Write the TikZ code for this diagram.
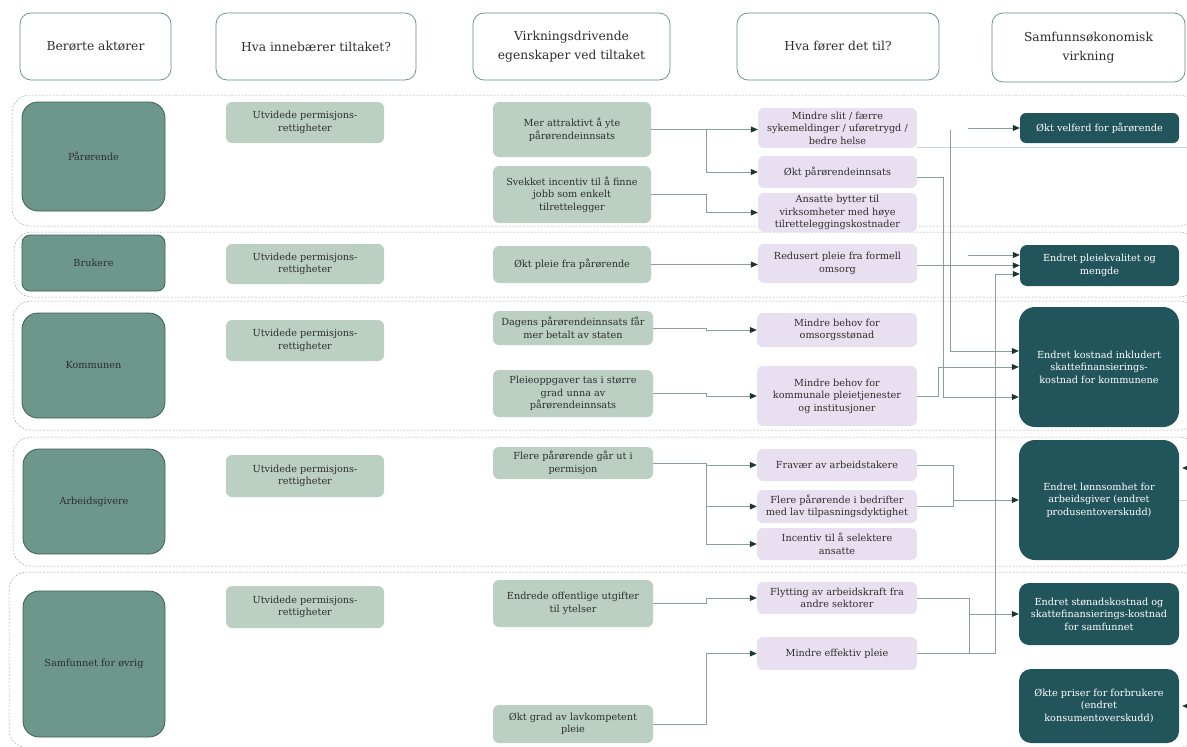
\documentclass[tikz,border=0pt]{standalone}
\usepackage{fontspec}
\setmainfont{DejaVu Serif}
\usetikzlibrary{arrows.meta,calc}
\definecolor{hdrc}{HTML}{5F8C88}
\definecolor{txtc}{HTML}{2E2E2E}
\definecolor{actorc}{HTML}{6D978A}
\definecolor{actord}{HTML}{3E5E56}
\definecolor{lgc}{HTML}{BBD0C3}
\definecolor{lavc}{HTML}{E8E0F0}
\definecolor{tealc}{HTML}{22545B}
\definecolor{bandc}{HTML}{A8A8A8}
\definecolor{linec}{HTML}{87A098}
\definecolor{faintc}{HTML}{C9D6D1}
\definecolor{arrc}{HTML}{1B3631}
\newcommand{\mybox}[7]{\node[#1, minimum width={(#5-#3)*1pt}, minimum height={(#6-#4)*1pt}] (#2) at ({(#3+#5)/2},{(#4+#6)/2}) {#7};}
\begin{document}
\begin{tikzpicture}[x=1pt,y=-1pt,
  hdr/.style={draw=hdrc, line width=0.7pt, rounded corners=11pt, fill=white, align=center, font=\fontsize{12.3}{19.5}\selectfont, text=txtc, inner sep=0pt},
  actor/.style={draw=actord, fill=actorc, line width=0.8pt, rounded corners=16pt, align=center, font=\fontsize{9.7}{12.5}\selectfont, text=txtc, inner sep=0pt},
  lg/.style={fill=lgc, rounded corners=6pt, align=center, font=\fontsize{9.7}{12.5}\selectfont, text=txtc, inner sep=0pt},
  lav/.style={fill=lavc, rounded corners=6pt, align=center, font=\fontsize{9.7}{12.5}\selectfont, text=txtc, inner sep=0pt},
  teal/.style={fill=tealc, rounded corners=7pt, align=center, font=\fontsize{9.7}{12.5}\selectfont, text=white, inner sep=0pt},
  band/.style={draw=bandc, dash pattern=on 2pt off 1.5pt, line width=0.5pt, rounded corners=18pt},
  conn/.style={draw=linec, line width=0.8pt},
  faint/.style={draw=faintc, line width=0.6pt},
  arr/.style={conn, -{Triangle[length=7pt,width=6pt,color=arrc]}}
]
\useasboundingbox (0,0) rectangle (1187,747);
% bands
\draw[band] (12,95) rectangle (1197,226);
\draw[band] (14,232) rectangle (1197,297);
\draw[band] (13,301) rectangle (1197,430);
\draw[band] (13,437) rectangle (1197,566);
\draw[band] (9,572) rectangle (1197,747.5);
% headers
\mybox{hdr}{h1}{20}{13}{171}{80}{Berørte aktører}
\mybox{hdr}{h2}{216}{13}{416}{80}{Hva innebærer tiltaket?}
\mybox{hdr}{h3}{473}{13}{670}{80}{Virkningsdrivende\\egenskaper ved tiltaket}
\mybox{hdr}{h4}{737}{13}{939}{80}{Hva fører det til?}
\mybox{hdr}{h5}{992}{13}{1185}{82}{Samfunnsøkonomisk\\virkning}
% actors
\mybox{actor}{a1}{22}{102}{165}{211}{Pårørende}
\mybox{actor,rounded corners=8pt}{a2}{22}{235}{165}{291}{Brukere}
\mybox{actor}{a3}{22}{313}{165}{418}{Kommunen}
\mybox{actor}{a4}{23}{449}{165}{554}{Arbeidsgivere}
\mybox{actor}{a5}{23}{591}{165}{737}{Samfunnet for øvrig}
% column 2
\mybox{lg}{u1}{226}{102}{384}{143}{Utvidede permisjons-\\rettigheter}
\mybox{lg}{u2}{226}{244}{384}{284}{Utvidede permisjons-\\rettigheter}
\mybox{lg}{u3}{226}{320}{384}{361}{Utvidede permisjons-\\rettigheter}
\mybox{lg}{u4}{226}{455}{384}{497}{Utvidede permisjons-\\rettigheter}
\mybox{lg}{u5}{226}{586}{384}{628}{Utvidede permisjons-\\rettigheter}
% column 3
\mybox{lg}{c1}{493}{102}{651}{157}{Mer attraktivt å yte\\pårørendeinnsats}
\mybox{lg}{c2}{493}{166}{651}{223}{Svekket incentiv til å finne\\jobb som enkelt\\tilrettelegger}
\mybox{lg}{c3}{493}{246}{651}{283}{Økt pleie fra pårørende}
\mybox{lg}{c4}{493}{311}{653}{345}{Dagens pårørendeinnsats får\\mer betalt av staten}
\mybox{lg}{c5}{493}{370}{653}{417}{Pleieoppgaver tas i større\\grad unna av\\pårørendeinnsats}
\mybox{lg}{c6}{493}{447}{653}{479}{Flere pårørende går ut i\\permisjon}
\mybox{lg}{c7}{493}{580}{653}{627}{Endrede offentlige utgifter\\til ytelser}
\mybox{lg}{c8}{493}{705}{653}{743}{Økt grad av lavkompetent\\pleie}
% column 4
\mybox{lav}{d1}{758}{108}{917}{148}{Mindre slit / færre\\sykemeldinger / uføretrygd /\\bedre helse}
\mybox{lav}{d2}{758}{156}{917}{188}{Økt pårørendeinnsats}
\mybox{lav}{d3}{758}{193}{917}{232}{Ansatte bytter til\\virksomheter med høye\\tilretteleggingskostnader}
\mybox{lav}{d4}{758}{244}{917}{283}{Redusert pleie fra formell\\omsorg}
\mybox{lav}{d5}{757}{313}{917}{347}{Mindre behov for\\omsorgsstønad}
\mybox{lav}{d6}{757}{366}{917}{426}{Mindre behov for\\kommunale pleietjenester\\og institusjoner}
\mybox{lav}{d7}{757}{449}{917}{481}{Fravær av arbeidstakere}
\mybox{lav}{d8}{757}{490}{917}{523}{Flere pårørende i bedrifter\\med lav tilpasningsdyktighet}
\mybox{lav}{d9}{757}{528}{917}{560}{Incentiv til å selektere\\ansatte}
\mybox{lav}{d10}{757}{582}{917}{614}{Flytting av arbeidskraft fra\\andre sektorer}
\mybox{lav}{d11}{757}{637}{917}{670}{Mindre effektiv pleie}
% column 5
\mybox{teal,rounded corners=6pt}{e1}{1020}{113}{1179}{143}{Økt velferd for pårørende}
\mybox{teal}{e2}{1020}{245}{1179}{286}{Endret pleiekvalitet og\\mengde}
\mybox{teal,rounded corners=16pt}{e3}{1019}{307}{1179}{427}{Endret kostnad inkludert\\skattefinansierings-\\kostnad for kommunene}
\mybox{teal,rounded corners=16pt}{e4}{1019}{440}{1179}{560}{Endret lønnsomhet for\\arbeidsgiver (endret\\produsentoverskudd)}
\mybox{teal,rounded corners=10pt}{e5}{1019}{583}{1179}{645}{Endret stønadskostnad og\\skattefinansierings-kostnad\\for samfunnet}
\mybox{teal,rounded corners=12pt}{e6}{1019}{669}{1179}{743}{Økte priser for forbrukere\\(endret\\konsumentoverskudd)}
% free ends
\coordinate (d1o) at (917,147);
\coordinate (edge1) at (1190,147);
\coordinate (v1) at (968,128);
\coordinate (v2) at (950,130);
\coordinate (v3) at (968,255);
\coordinate (r1) at (1195,468);
\coordinate (r2) at (1195,706);
\coordinate (r3) at (1195,500);
% row 1
\draw[arr] (c1.east) -- (c1.east -| d1.west);
\draw[arr] ($(c1.east)+(55,0)$) |- (d2.west);
\draw[arr] (c2.east) -- ++(55,0) |- (d3.west);
% row 2
\draw[arr] (c3.east) -- (c3.east -| d4.west);
% row 3
\draw[arr] (c4.east) -- ++(53,0) |- (d5.west);
\draw[arr] (c5.east) -- ++(53,0) |- (d6.west);
% row 4
\draw[arr] (c6.east) -- ++(53,0) |- (d7.west);
\draw[arr] ($(c6.east)+(53,0)$) |- (d8.west);
\draw[arr] ($(c6.east)+(53,0)$) |- (d9.west);
% row 5
\draw[arr] (c7.east) -- ++(53,0) |- (d10.west);
\draw[arr] (c8.east) -- ++(53,0) |- (d11.west);
% column 4 -> column 5
\draw[faint] (d1o) -- (edge1);
\draw[arr] (v1) -- (v1 -| e1.west);
\draw[arr] (v2) |- ($(e3.west)+(0,-16)$);
\draw[arr] ($(d2.east)+(0,5)$) -| ($(e3.west)+(-75,30)$) -- ($(e3.west)+(0,30)$);
\draw[arr] (d6.east) -- ++(21,0) |- (e3.west);
\draw[arr] (v3) -- (v3 -| e2.west);
\draw[arr] (d4.east |- e2.west) -- (e2.west);
\draw[arr] (d11.east) -| ($(e2.west)+(-24,8.5)$) -- ($(e2.west)+(0,8.5)$);
\draw[conn] (d10.east) -| ($(d11.east)+(52,0)$);
\draw[arr] ($(d10.east)+(52,0)$) |- (e5.west);
\draw[conn] (d7.east) -| ($(d8.east)+(36,0)$) -- (d8.east);
\draw[arr] ($(d7.east)+(36,0)$) |- (e4.west);
\draw[faint] (e4.east |- r3) -- (r3);
\draw[arr] (r1) -- ($(r1 -| e4.east)+(3,0)$);
\draw[arr] (r2) -- ($(r2 -| e6.east)+(3,0)$);
\end{tikzpicture}
\end{document}
